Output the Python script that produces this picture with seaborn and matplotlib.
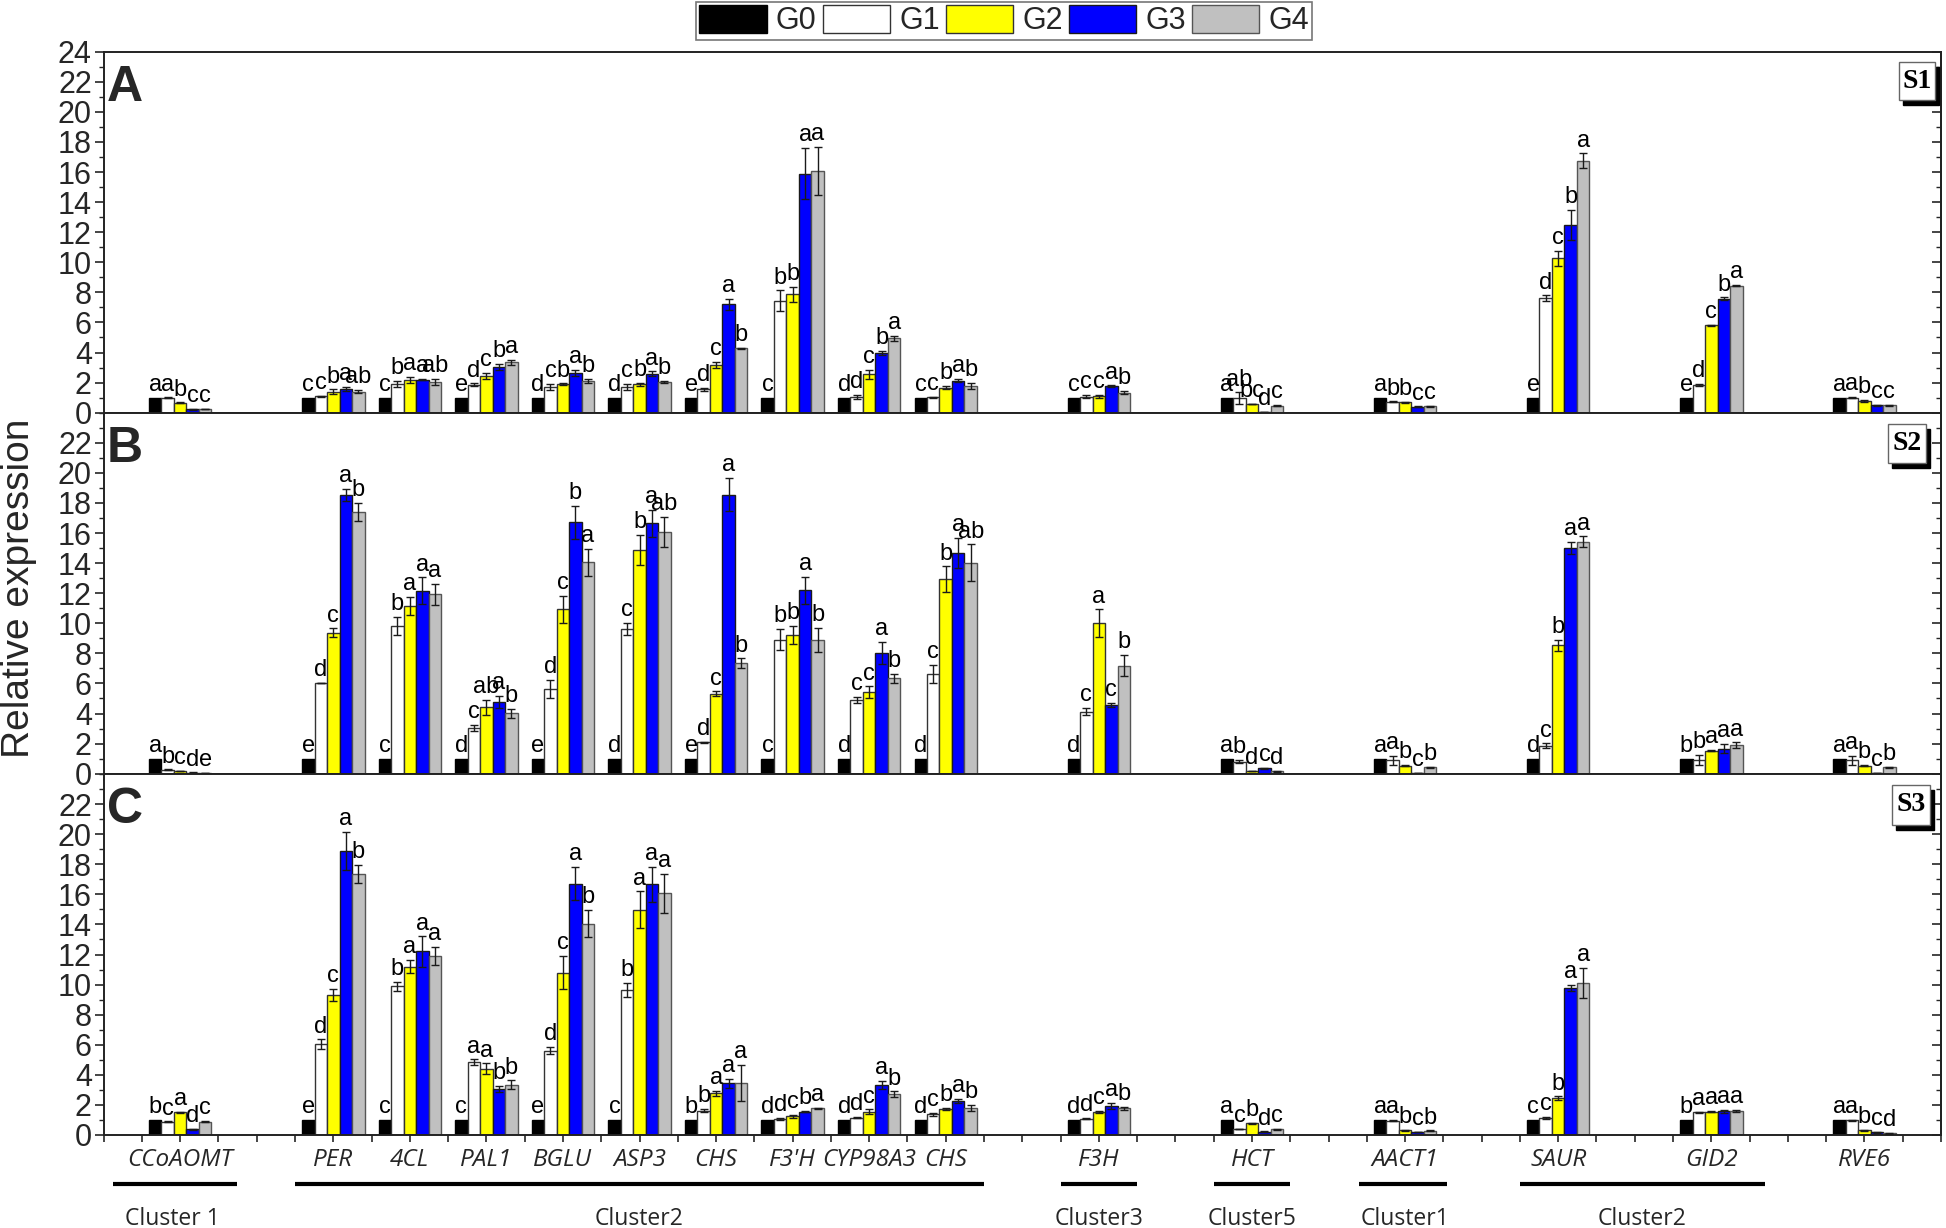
import numpy as np
import pandas as pd
import matplotlib
matplotlib.use("Agg")
import matplotlib.pyplot as plt
import seaborn as sns
from matplotlib.patches import Patch, Rectangle
from matplotlib.ticker import MultipleLocator, FixedLocator

# ---------------- data ----------------
genes = ["CCoAOMT", "PER", "4CL", "PAL1", "BGLU", "ASP3", "CHS", "F3'H",
         "CYP98A3", "CHS", "F3H", "HCT", "AACT1", "SAUR", "GID2", "RVE6"]
positions = [1, 3, 4, 5, 6, 7, 8, 9, 10, 11, 13, 15, 17, 19, 21, 23]
groups = ["G0", "G1", "G2", "G3", "G4"]

A_vals = [[1.0, 1.0, 0.66, 0.22, 0.24], [1.0, 1.1, 1.4, 1.57, 1.4],
          [1.0, 1.9, 2.2, 2.2, 2.05], [1.0, 1.85, 2.45, 3.05, 3.35],
          [1.0, 1.7, 1.9, 2.65, 2.1], [1.0, 1.73, 1.9, 2.6, 2.05],
          [1.0, 1.57, 3.2, 7.2, 4.28], [1.0, 7.43, 7.87, 15.9, 16.05],
          [1.0, 1.05, 2.57, 3.97, 4.94], [1.0, 1.02, 1.66, 2.13, 1.77],
          [1.0, 1.06, 1.1, 1.77, 1.33], [1.0, 0.95, 0.58, 0.05, 0.47],
          [1.0, 0.73, 0.69, 0.4, 0.44], [1.0, 7.6, 10.27, 12.46, 16.74],
          [1.0, 1.84, 5.8, 7.56, 8.45], [1.0, 1.0, 0.78, 0.49, 0.49]]
A_errs = [[0, 0.02, 0.03, 0.02, 0.02], [0, 0.03, 0.15, 0.15, 0.1],
          [0, 0.2, 0.2, 0.05, 0.2], [0, 0.1, 0.2, 0.2, 0.15],
          [0, 0.2, 0.05, 0.2, 0.15], [0, 0.2, 0.1, 0.15, 0.05],
          [0, 0.1, 0.2, 0.35, 0.05], [0, 0.7, 0.5, 1.7, 1.6],
          [0, 0.15, 0.3, 0.15, 0.15], [0, 0.03, 0.1, 0.1, 0.2],
          [0, 0.1, 0.1, 0.05, 0.1], [0, 0.4, 0.03, 0.02, 0.03],
          [0, 0.02, 0.03, 0.02, 0.03], [0, 0.2, 0.5, 1.0, 0.5],
          [0, 0.05, 0.02, 0.1, 0.05], [0, 0.03, 0.08, 0.03, 0.03]]
A_lets = ["a a b c c", "c c b a ab", "c b a a ab", "e d c b a", "d c b a b",
          "d c b a b", "e d c a b", "c b b a a", "d d c b a", "c c b a b",
          "c c c a b", "a ab bc d c", "a b b c c", "e d c b a", "e d c b a",
          "a a b c c"]

B_vals = [[1.0, 0.25, 0.18, 0.07, 0.04], [1.0, 6.03, 9.36, 18.54, 17.38],
          [1.0, 9.85, 11.18, 12.15, 11.93], [1.0, 3.06, 4.41, 4.79, 4.01],
          [1.0, 5.65, 10.93, 16.72, 14.06], [1.0, 9.62, 14.88, 16.65, 16.05],
          [1.0, 2.08, 5.32, 18.54, 7.36], [1.0, 8.91, 9.2, 12.2, 8.91],
          [1.0, 4.88, 5.41, 8.03, 6.34], [1.0, 6.65, 12.93, 14.68, 14.04],
          [1.0, 4.12, 10.02, 4.57, 7.18], [1.0, 0.8, 0.18, 0.35, 0.15],
          [1.0, 0.89, 0.53, 0.03, 0.42], [1.0, 1.86, 8.54, 15.03, 15.43],
          [1.0, 0.91, 1.53, 1.66, 1.88], [1.0, 0.89, 0.53, 0.03, 0.42]]
B_errs = [[0, 0.03, 0.03, 0.02, 0.02], [0, 0.02, 0.3, 0.4, 0.6],
          [0, 0.6, 0.6, 0.9, 0.7], [0, 0.2, 0.5, 0.4, 0.3],
          [0, 0.6, 0.9, 1.1, 0.9], [0, 0.4, 1.0, 0.9, 1.0],
          [0, 0.02, 0.15, 1.1, 0.3], [0, 0.7, 0.6, 0.9, 0.8],
          [0, 0.2, 0.4, 0.75, 0.3], [0, 0.6, 0.85, 1.0, 1.2],
          [0, 0.25, 0.9, 0.15, 0.7], [0, 0.1, 0.03, 0.03, 0.02],
          [0, 0.3, 0.03, 0.01, 0.03], [0, 0.15, 0.35, 0.4, 0.35],
          [0, 0.35, 0.05, 0.3, 0.2], [0, 0.3, 0.03, 0.01, 0.03]]
B_lets = ["a b c d e", "e d c a b", "c b a a a", "d c ab a b", "e d c b a",
          "d c b a ab", "e d c a b", "c b b a b", "d c c a b", "d c b a ab",
          "d c a c b", "a b d c d", "a a b c b", "d c b a a", "b b a a a",
          "a a b c b"]

C_vals = [[1.0, 0.89, 1.51, 0.38, 0.89], [1.0, 6.05, 9.31, 18.9, 17.38],
          [1.0, 9.89, 11.2, 12.2, 11.93], [1.0, 4.83, 4.41, 3.04, 3.33],
          [1.0, 5.61, 10.8, 16.7, 14.06], [1.0, 9.65, 14.99, 16.67, 16.08],
          [1.0, 1.62, 2.77, 3.44, 3.44], [1.0, 1.04, 1.26, 1.55, 1.77],
          [1.0, 1.15, 1.55, 3.33, 2.7], [1.0, 1.37, 1.73, 2.26, 1.8],
          [1.0, 1.09, 1.53, 1.95, 1.77], [1.0, 0.4, 0.78, 0.22, 0.38],
          [1.0, 0.95, 0.31, 0.2, 0.27], [1.0, 1.13, 2.44, 9.8, 10.09],
          [1.0, 1.51, 1.55, 1.57, 1.6], [1.0, 0.98, 0.31, 0.18, 0.1]]
C_errs = [[0, 0.02, 0.05, 0.02, 0.03], [0, 0.3, 0.4, 1.25, 0.6],
          [0, 0.3, 0.45, 1.0, 0.6], [0, 0.2, 0.35, 0.2, 0.3],
          [0, 0.25, 1.1, 1.1, 0.9], [0, 0.45, 1.2, 1.15, 1.3],
          [0, 0.1, 0.15, 0.3, 1.2], [0, 0.07, 0.1, 0.05, 0.05],
          [0, 0.05, 0.15, 0.25, 0.2], [0, 0.1, 0.05, 0.15, 0.2],
          [0, 0.03, 0.08, 0.2, 0.1], [0, 0.03, 0.05, 0.02, 0.03],
          [0, 0.05, 0.03, 0.02, 0.03], [0, 0.05, 0.12, 0.2, 1.0],
          [0, 0.05, 0.05, 0.08, 0.08], [0, 0.03, 0.02, 0.02, 0.02]]
C_lets = ["b c a d c", "e d c a b", "c b a a a", "c a a b b", "e d c a b",
          "c b a a a", "b b a a a", "d d c b a", "d d c a b", "d c b a b",
          "d d c a b", "a c b d c", "a a b c b", "c c b a a", "b a a a a",
          "a a b c d"]

cluster_names = ["Cluster 1", "Cluster2", "Cluster3", "Cluster5", "Cluster1", "Cluster2"]
cluster_spans = [(0.12, 1.74), (2.5, 11.5), (12.5, 13.5), (14.5, 15.5), (16.4, 17.55), (18.5, 21.7)]
cluster_centers = [0.9, 7.0, 13.0, 15.0, 17.0, 20.1]

# ---------------- style ----------------
colors = ["#000000", "#ffffff", "#ffff00", "#0000ff", "#c0c0c0"]
edge_colors = ["#000000", "#333333", "#333333", "#1a1a1a", "#555555"]
group_width = 0.816

sns.set_style("ticks")
plt.rcParams["font.family"] = ["Liberation Sans", "DejaVu Sans"]
plt.rcParams["axes.linewidth"] = 1.4

W, H = 1946, 1228
fig = plt.figure(figsize=(W / 100, H / 100), dpi=100)

left = 103.6 / W
width = (1941 - 103.6) / W
ph = 361 / H
bottoms = [1 - 412.7 / H, 1 - 773.7 / H, 1 - 1135 / H]

# tag boxes in axes fraction: (x0, x1, y0, y1)
panels = [("A", "S1", A_vals, A_errs, A_lets, (0.9774, 0.9965, 0.866, 0.9715)),
          ("B", "S2", B_vals, B_errs, B_lets, (0.9711, 0.9918, 0.861, 0.969)),
          ("C", "S3", C_vals, C_errs, C_lets, (0.9736, 0.9940, 0.859, 0.9695))]

tick_labels = {p: g for p, g in zip(positions, genes)}

for idx, (letter, tag, vals, errs, lets, tagbox) in enumerate(panels):
    ax = fig.add_axes([left, bottoms[idx], width, ph])
    df = pd.DataFrame([(p, g, v) for p, row in zip(positions, vals)
                       for g, v in zip(groups, row)],
                      columns=["pos", "group", "val"])
    sns.barplot(data=df, x="pos", y="val", hue="group", hue_order=groups,
                palette=colors, native_scale=True, width=group_width,
                saturation=1, errorbar=None, legend=False, ax=ax,
                linewidth=1.0, edgecolor="black")
    pos_arr = np.array(positions, dtype=float)
    bar_containers = list(ax.containers)
    for gi, cont in enumerate(bar_containers):
        for bar in list(cont):
            bar.set_edgecolor(edge_colors[gi])
            bar.set_linewidth(1.0)
            xc = bar.get_x() + bar.get_width() / 2
            gidx = int(np.argmin(np.abs(pos_arr - xc)))
            h = bar.get_height()
            e = errs[gidx][gi]
            if e > 0:
                ax.errorbar(xc, h, yerr=e, fmt="none", ecolor="#1a1a1a",
                            elinewidth=1.0, capsize=3, capthick=1.0, zorder=3)
            lab = lets[gidx].split()[gi]
            ax.text(xc, h + e + 0.12, lab, ha="center", va="bottom",
                    fontsize=17, color="black", zorder=4)

    ax.set_xlim(0, 24)
    ax.set_ylim(0, 24)
    ax.set_xlabel("")
    ax.set_ylabel("")

    ax.xaxis.set_major_locator(FixedLocator(list(range(0, 25))))
    ax.set_xticklabels([tick_labels.get(i, "") for i in range(0, 25)],
                       fontstyle="italic", family=["Open Sans", "DejaVu Sans"],
                       fontsize=17.5)
    ax.xaxis.set_minor_locator(MultipleLocator(0.5))
    ax.tick_params(axis="x", which="major", direction="out", length=5,
                   width=1.2, pad=4, bottom=True, top=False,
                   labelbottom=(idx == 2))
    ax.tick_params(axis="x", which="minor", direction="out", length=5,
                   width=1.2, bottom=True, top=False)

    ymax_lab = 24 if idx == 0 else 22
    ax.set_yticks(list(range(0, ymax_lab + 1, 2)))
    ax.set_yticklabels([str(v) for v in range(0, ymax_lab + 1, 2)], fontsize=22)
    ax.yaxis.set_minor_locator(MultipleLocator(1))
    ax.tick_params(axis="y", which="major", direction="out", length=6.5,
                   width=1.2, pad=2, left=True, right=False)
    ax.tick_params(axis="y", which="minor", direction="out", length=3.5,
                   width=1.0, left=True, right=False)
    for s in ["top", "right", "left", "bottom"]:
        ax.spines[s].set_visible(True)
        ax.spines[s].set_linewidth(1.4)
        ax.spines[s].set_color("#222222")

    sec = ax.secondary_yaxis("right")
    sec.yaxis.set_major_locator(MultipleLocator(2))
    sec.yaxis.set_minor_locator(MultipleLocator(1))
    sec.tick_params(axis="y", which="major", direction="in", length=6.5,
                    width=1.2, labelright=False)
    sec.tick_params(axis="y", which="minor", direction="in", length=3.5,
                    width=1.0)
    sec.spines["right"].set_linewidth(1.4)

    ax.text(0.0116, 0.90, letter, transform=ax.transAxes, fontsize=36,
            fontweight="bold", ha="center", va="center")

    x0, x1, y0, y1 = tagbox
    dx, dy = 4 / (width * W), 5 / (ph * H)
    ax.add_patch(Rectangle((x0 + dx, y0 - dy), x1 - x0, y1 - y0,
                           transform=ax.transAxes, facecolor="black",
                           edgecolor="black", lw=1, zorder=5, clip_on=False))
    ax.add_patch(Rectangle((x0, y0), x1 - x0, y1 - y0,
                           transform=ax.transAxes, facecolor="white",
                           edgecolor="#666666", lw=1, zorder=6, clip_on=False))
    ax.text((x0 + x1) / 2, (y0 + y1) / 2, tag, transform=ax.transAxes,
            ha="center", va="center", fontsize=20, fontweight="bold",
            family=["Liberation Serif", "DejaVu Serif"], color="black", zorder=7)

    if idx == 2:
        tr = ax.get_xaxis_transform()
        for name, (cx0, cx1), xc in zip(cluster_names, cluster_spans, cluster_centers):
            ax.plot([cx0, cx1], [-0.1357, -0.1357], transform=tr, color="black",
                    lw=3, clip_on=False, solid_capstyle="butt")
            ax.text(xc, -0.249, name, transform=tr, ha="center", va="baseline",
                    fontsize=16.5, family=["Open Sans", "DejaVu Sans"])

fig.text(0.0096, 0.521, "Relative expression", rotation=90, ha="center",
         va="center", fontsize=28)

handles = [Patch(facecolor=c, edgecolor=ec, linewidth=1.0)
           for c, ec in zip(colors, edge_colors)]
leg = fig.legend(handles, groups, loc="center", bbox_to_anchor=(0.516, 0.983),
                 ncol=5, frameon=True, fontsize=22, handlelength=2.2,
                 handleheight=1.0, handletextpad=0.3, columnspacing=0.2,
                 borderpad=0.1, borderaxespad=0, fancybox=False,
                 edgecolor="#555555")
leg.get_frame().set_linewidth(1.2)

fig.savefig("out.png", dpi=100)
